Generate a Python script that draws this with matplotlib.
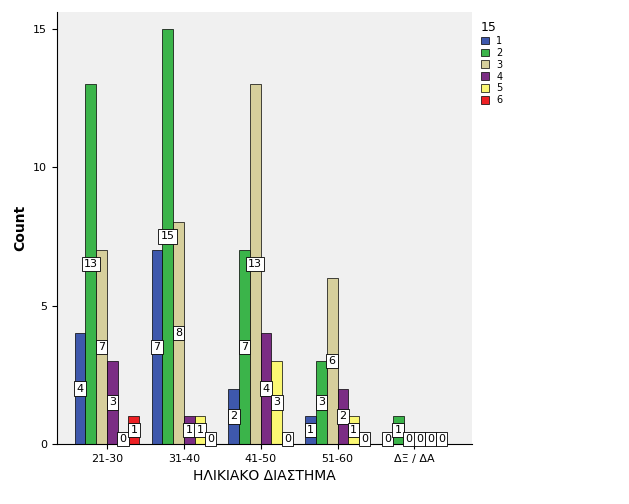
import matplotlib
matplotlib.use("Agg")
import matplotlib.pyplot as plt
import numpy as np

categories = ["21-30", "31-40", "41-50", "51-60", "ΔΞ / ΔΑ"]
series_names = ["1", "2", "3", "4", "5", "6"]
values = {
    "1": [4, 7, 2, 1, 0],
    "2": [13, 15, 7, 3, 1],
    "3": [7, 8, 13, 6, 0],
    "4": [3, 1, 4, 2, 0],
    "5": [0, 1, 3, 1, 0],
    "6": [1, 0, 0, 0, 0],
}
colors = ["#3E58AC", "#3BB44A", "#D6CF9C", "#7B2D84", "#FBF873", "#ED2024"]

fig = plt.figure(figsize=(6.29, 5.04), dpi=100)
ax = fig.add_axes([57/629, 60/504, 415/629, 432/504])
ax.set_facecolor("#F0F0F0")
x = np.arange(len(categories))
w = 0.14
for i, (name, c) in enumerate(zip(series_names, colors)):
    vals = values[name]
    pos = x + (i - 2.5) * w
    ax.bar(pos, vals, width=w, color=c, edgecolor="black", linewidth=0.5, label=name)
    for p, v in zip(pos, vals):
        ax.text(p, v / 2 if v > 0 else 0.0, str(v), ha="center", va="center" if v > 0 else "bottom",
                fontsize=8, bbox=dict(boxstyle="square,pad=0.2", fc="white", ec="black", lw=0.6))
ax.set_xlim(-0.65, 4.75)
ax.set_ylim(0, 15.6)
ax.set_yticks([0, 5, 10, 15])
ax.set_xticks(x)
ax.set_xticklabels(categories, fontsize=8)
ax.tick_params(axis="y", labelsize=8)
ax.set_ylabel("Count", fontsize=10, fontweight="bold")
ax.set_xlabel("ΗΛΙΚΙΑΚΟ ΔΙΑΣΤΗΜΑ", fontsize=10)
for s in ["top", "right"]:
    ax.spines[s].set_visible(False)
leg = ax.legend(title="15", loc="upper left", bbox_to_anchor=(1.0, 1.0), frameon=False,
                fontsize=7, title_fontsize=9, handlelength=0.8, handleheight=0.8,
                labelspacing=0.2, alignment="left")
fig.savefig("out.png", dpi=100, facecolor="white")
